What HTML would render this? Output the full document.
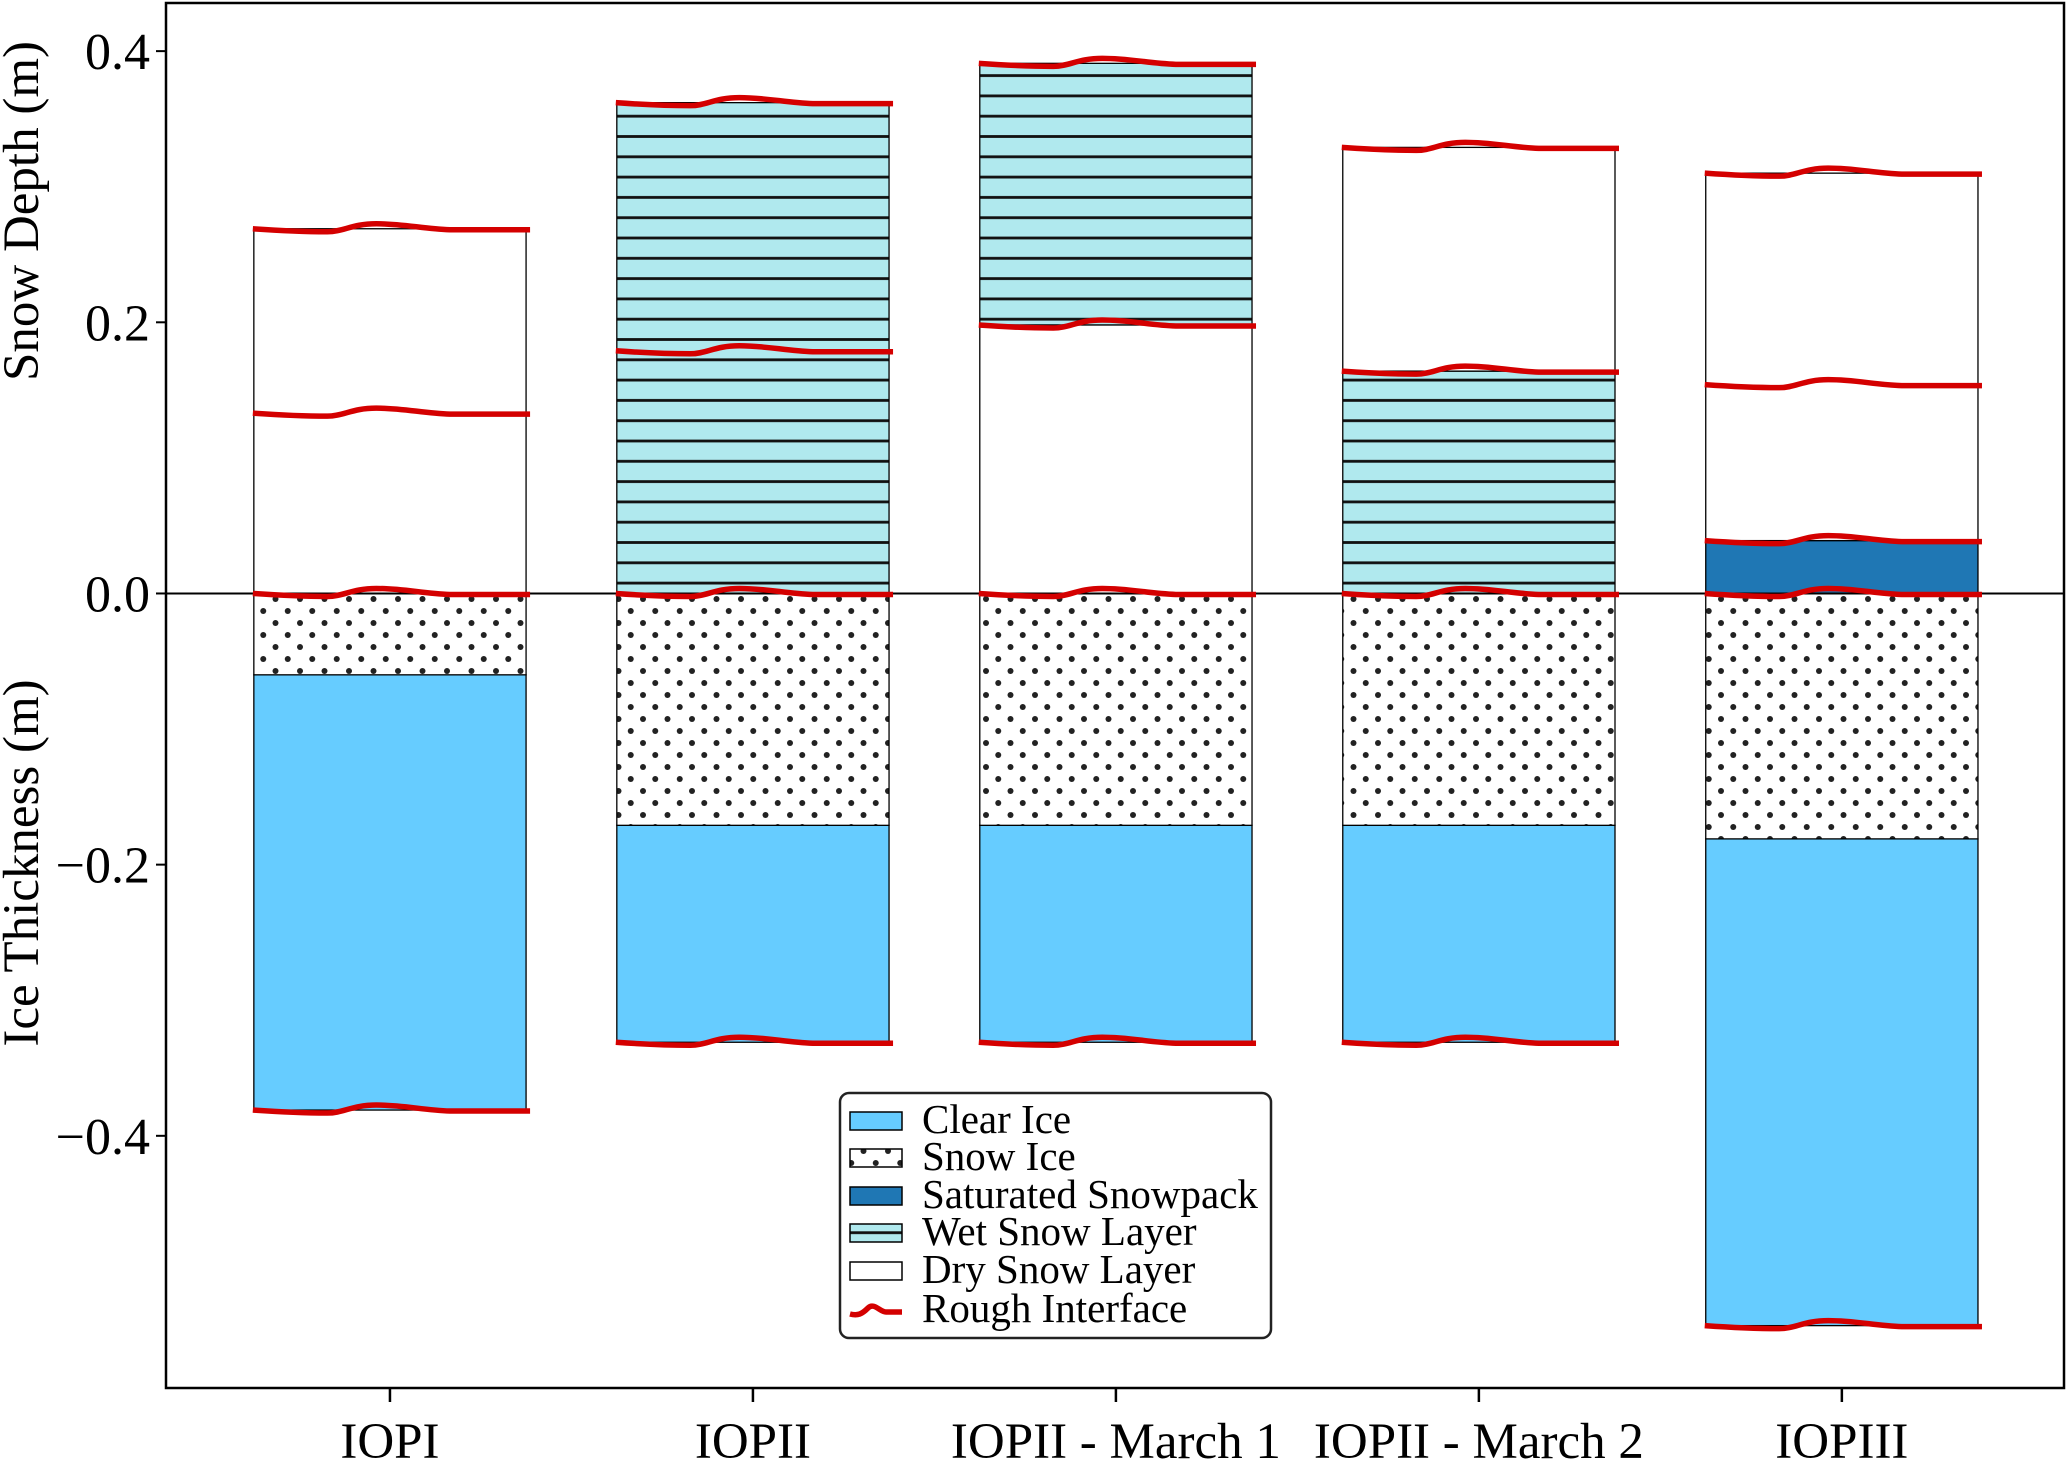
<!DOCTYPE html>
<html><head><meta charset="utf-8"><style>
html,body{margin:0;padding:0;background:#fff}
svg{display:block;font-family:"Liberation Serif",serif}
</style></head><body>
<svg id="chart" width="2067" height="1460" viewBox="0 0 2067 1460" xmlns="http://www.w3.org/2000/svg">
<defs>
<pattern id="dots" patternUnits="userSpaceOnUse" width="24.5" height="24" x="0" y="593">
<rect width="24.5" height="24" fill="#fff"/>
<circle cx="6" cy="6" r="3" fill="#222"/><circle cx="18.25" cy="18" r="3" fill="#222"/>
</pattern>
<pattern id="lines" patternUnits="userSpaceOnUse" width="40" height="20.3" x="0" y="593">
<rect width="40" height="20.3" fill="#b0e9ee"/>
<rect y="9" width="40" height="2.8" fill="#111"/>
</pattern>
</defs>
<g id="plot"></g>
</svg>
<script>
const categories=["IOPI","IOPII","IOPII - March 1","IOPII - March 2","IOPIII"];
const clearIce=[[-0.381,-0.060],[-0.331,-0.171],[-0.331,-0.171],[-0.331,-0.171],[-0.540,-0.181]];
const snowIce=[[-0.060,0],[-0.171,0],[-0.171,0],[-0.171,0],[-0.181,0]];
const saturated=[null,null,null,null,[0,0.039]];
const wetSnow=[null,[0,0.362],[0.198,0.391],[0,0.164],null];
const drySnow=[[0,0.269],null,[0,0.198],[0.164,0.329],[0.039,0.310]];
const interfaces=[[-0.381,0,0.133,0.269],[-0.331,0,0.179,0.362],[-0.331,0,0.198,0.391],[-0.331,0,0.164,0.329],[-0.540,0,0.039,0.154,0.310]];
const yTicks=[0.4,0.2,0.0,-0.2,-0.4];
const yTickLabels=["0.4","0.2","0.0","\u22120.2","\u22120.4"];

const L=166,R=2064,T=3,B=1388;
const xmin=-0.617,xmax=4.612,ymin=-0.586,ymax=0.4355;
const X=v=>L+(v-xmin)/(xmax-xmin)*(R-L);
const Y=v=>T+(ymax-v)/(ymax-ymin)*(B-T);
const bw=0.75*(X(1)-X(0));
const NS="http://www.w3.org/2000/svg";
const g=document.getElementById('plot');
function el(tag,attrs,parent){const e=document.createElementNS(NS,tag);for(const k in attrs)e.setAttribute(k,attrs[k]);(parent||g).appendChild(e);return e;}

function layer(arr,fill,name){
 arr.forEach((d,i)=>{ if(!d)return;
  const r=el('rect',{x:X(i)-bw/2,y:Y(d[1]),width:bw,height:Y(d[0])-Y(d[1]),fill:fill,stroke:'#000','stroke-width':1.3});
  
  
 });
}
layer(clearIce,'#66ccff','clear-ice');
layer(snowIce,'url(#dots)','snow-ice');
layer(saturated,'#1f77b4','saturated-snowpack');
layer(wetSnow,'url(#lines)','wet-snow');
layer(drySnow,'#ffffff','dry-snow');

const zl=el('line',{x1:L,x2:R,y1:Y(0),y2:Y(0),stroke:'#000','stroke-width':2});



function rough(x0,w,y){
 return `M${x0-1},${y} C${x0+0.1*w},${y+2} ${x0+0.18*w},${y+3} ${x0+0.27*w},${y+3} C${x0+0.33*w},${y+3} ${x0+0.36*w},${y-5} ${x0+0.45*w},${y-5} C${x0+0.55*w},${y-5} ${x0+0.62*w},${y} ${x0+0.72*w},${y+1} L${x0+w+4},${y+1}`;
}
interfaces.forEach((arr,i)=>arr.forEach((v,j)=>{
 const p=el('path',{d:rough(X(i)-bw/2,bw,Y(v)),fill:'none',stroke:'#d40000','stroke-width':5.5,'stroke-linejoin':'round'});
 
 
}));

const fr=el('rect',{x:L,y:T,width:R-L,height:B-T,fill:'none',stroke:'#000','stroke-width':2.5});



yTicks.forEach((v,i)=>{
 const t=el('line',{x1:L-10,x2:L,y1:Y(v),y2:Y(v),stroke:'#000','stroke-width':2});
 
 
 const tx=el('text',{x:L-16,y:Y(v)+18,'text-anchor':'end','font-size':52});
 tx.textContent=yTickLabels[i];
 
 
});
categories.forEach((c,i)=>{
 const t=el('line',{x1:X(i),x2:X(i),y1:B,y2:B+14,stroke:'#000','stroke-width':2.5});
 
 
 const tx=el('text',{x:X(i),y:1458,'text-anchor':'middle','font-size':51});
 tx.textContent=c;
 
 
});
const yl1=el('text',{x:0,y:0,'text-anchor':'middle','font-size':51,transform:`translate(38,211) rotate(-90)`});
yl1.textContent='Snow Depth (m)';


const yl2=el('text',{x:0,y:0,'text-anchor':'middle','font-size':51,transform:`translate(38,863) rotate(-90)`});
yl2.textContent='Ice Thickness (m)';



const lg=el('g',{});


el('rect',{x:840,y:1093,width:431,height:245,rx:9,fill:'#fff',stroke:'#222','stroke-width':2.5},lg);
const legLabels=["Clear Ice","Snow Ice","Saturated Snowpack","Wet Snow Layer","Dry Snow Layer","Rough Interface"];
const legFills=["#66ccff","url(#dots)","#1f77b4","url(#lines)","#ffffff",null];
const rowY=[1121,1158,1196,1233,1271,1310];
legLabels.forEach((s,i)=>{
 if(legFills[i]){
  const r=el('rect',{x:850,y:rowY[i]-9,width:52,height:18,fill:legFills[i],stroke:'#000','stroke-width':1.5},lg);
  
  
 } else {
  const p=el('path',{d:`M850,${rowY[i]+4} C858,${rowY[i]+6} 862,${rowY[i]+4} 868,${rowY[i]-2} C874,${rowY[i]-8} 880,${rowY[i]+2} 886,${rowY[i]+2} L902,${rowY[i]+2}`,fill:'none',stroke:'#d40000','stroke-width':5.5},lg);
  
  
 }
 const t=el('text',{x:922,y:rowY[i]+12,'font-size':41},lg);
 t.textContent=s;
 
 
});
</script>
</body></html>
